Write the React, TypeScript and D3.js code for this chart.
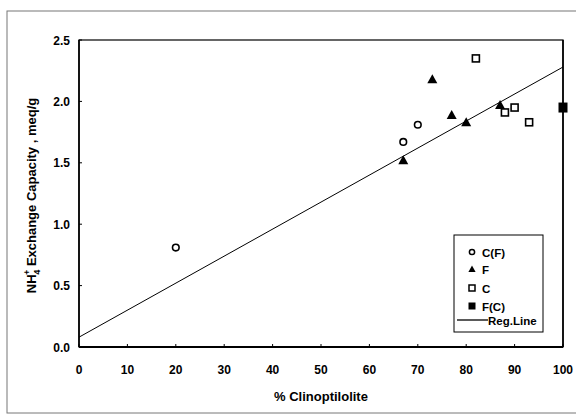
import React from "react";
import * as d3 from "d3";

const xTicks = [0, 10, 20, 30, 40, 50, 60, 70, 80, 90, 100];
const yTicks = [0, 0.5, 1.0, 1.5, 2.0, 2.5];
const cfX = [20, 67, 70];
const cfY = [0.81, 1.67, 1.81];
const fX = [67, 73, 77, 80, 87];
const fY = [1.52, 2.18, 1.89, 1.83, 1.97];
const cX = [82, 88, 90, 93];
const cY = [2.35, 1.91, 1.95, 1.83];
const fcX = [100];
const fcY = [1.95];
const regX = [0, 100];
const regY = [0.08, 2.28];
const legendLabels = ["C(F)", "F", "C", "F(C)", "Reg.Line"];

export default function App() {
  const W = 576, H = 415;
  const L = 79, R = 563, T = 40, B = 347;
  const x = d3.scaleLinear().domain([0, 100]).range([L, R]);
  const y = d3.scaleLinear().domain([0, 2.5]).range([B, T]);
  const font = "Arial, 'Liberation Sans', sans-serif";
  const line = d3.line<number>().x((_, i) => x(regX[i])).y((d) => y(d));
  const tri = (cx: number, cy: number, s = 5) =>
    `M${cx},${cy - s}L${cx + s},${cy + s * 0.8}L${cx - s},${cy + s * 0.8}Z`;

  const lg = { x: 454, y: 235, w: 89, h: 97 };
  const rows = [252, 269, 288, 306, 320];

  return (
    <svg width={W} height={H} style={{ position: "absolute", left: 0, top: 0, background: "#fff" }}>
      <rect x={7} y={11} width={W} height={402} fill="none" stroke="#777" strokeWidth={1} />
      {/* plot frame */}
      <rect x={L} y={T} width={R - L} height={B - T} fill="none" stroke="#000" strokeWidth={1.2} />
      <line x1={L} y1={B} x2={R} y2={B} stroke="#000" strokeWidth={2} />
      <line x1={L} y1={T} x2={L} y2={B} stroke="#000" strokeWidth={1.6} />
      <line x1={R} y1={T} x2={R} y2={B} stroke="#000" strokeWidth={1.6} />
      {xTicks.map((t) => (
        <g key={"x" + t}>
          <line x1={x(t)} x2={x(t)} y1={B} y2={B - 3} stroke="#000" strokeWidth={1} />
          <text x={x(t)} y={B + 27} textAnchor="middle" fontFamily={font} fontWeight="bold" fontSize={12}>
            {t}
          </text>
        </g>
      ))}
      {yTicks.map((t) => (
        <g key={"y" + t}>
          <line x1={L} x2={L + 3} y1={y(t)} y2={y(t)} stroke="#000" strokeWidth={1} />
          <text x={L - 9} y={y(t) + 4.5} textAnchor="end" fontFamily={font} fontWeight="bold" fontSize={12}>
            {t.toFixed(1)}
          </text>
        </g>
      ))}
      <text x={(L + R) / 2} y={401} textAnchor="middle" fontFamily={font} fontWeight="bold" fontSize={13}>
        % Clinoptilolite
      </text>
      <text
        transform={`translate(36,${(T + B) / 2 + 2}) rotate(-90)`}
        textAnchor="middle"
        fontFamily={font}
        fontWeight="bold"
        fontSize={13}
      >
        NH<tspan fontSize={8.5} dy={4}>4</tspan>
        <tspan fontSize={8.5} dy={-10} dx={-5}>+</tspan>
        <tspan dy={6}> Exchange Capacity , meq/g</tspan>
      </text>
      <path d={line(regY) || ""} stroke="#000" strokeWidth={1} fill="none" />
      {cfX.map((v, i) => (
        <circle key={"cf" + i} cx={x(v)} cy={y(cfY[i])} r={3.3} fill="#fff" stroke="#000" strokeWidth={1.6} />
      ))}
      {fX.map((v, i) => (
        <path key={"f" + i} d={tri(x(v), y(fY[i]))} fill="#000" />
      ))}
      {cX.map((v, i) => (
        <rect key={"c" + i} x={x(v) - 3.5} y={y(cY[i]) - 3.5} width={7} height={7} fill="#fff" stroke="#000" strokeWidth={1.6} />
      ))}
      {fcX.map((v, i) => (
        <rect key={"fc" + i} x={x(v) - 4.5} y={y(fcY[i]) - 5} width={9} height={10} fill="#000" />
      ))}
      {/* legend */}
      <rect x={lg.x} y={lg.y} width={lg.w} height={lg.h} fill="#fff" stroke="#000" strokeWidth={1} />
      <circle cx={lg.x + 18} cy={rows[0]} r={2.6} fill="#fff" stroke="#000" strokeWidth={1.5} />
      <path d={tri(lg.x + 18, rows[1], 3.6)} fill="#000" />
      <rect x={lg.x + 15} y={rows[2] - 3} width={6} height={6} fill="#fff" stroke="#000" strokeWidth={1.5} />
      <rect x={lg.x + 14.5} y={rows[3] - 3.5} width={7} height={7} fill="#000" />
      <line x1={lg.x + 3} x2={lg.x + 34} y1={rows[4]} y2={rows[4]} stroke="#000" strokeWidth={1.3} />
      {legendLabels.map((lab, i) => (
        <text key={lab} x={i === 4 ? lg.x + 34 : lg.x + 28} y={rows[i] + 4.5} fontFamily={font} fontWeight="bold" fontSize={11.5}>
          {lab}
        </text>
      ))}
    </svg>
  );
}
